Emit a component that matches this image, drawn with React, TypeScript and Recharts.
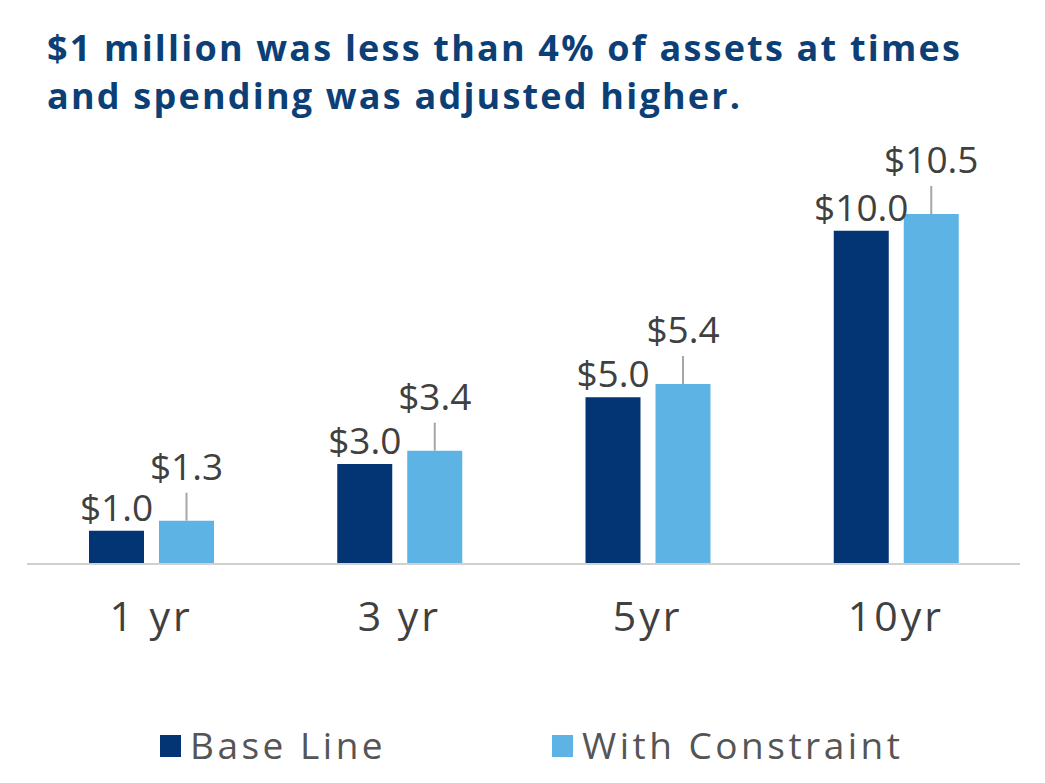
import { BarChart, Bar, XAxis, YAxis, LabelList } from "recharts";

const periods = ["1 yr", "3 yr", "5yr", "10yr"];
const baseLine = [1.0, 3.0, 5.0, 10.0];
const withConstraint = [1.3, 3.4, 5.4, 10.5];
const seriesNames = ["Base Line", "With Constraint"];
const titleLines = [
  "$1 million was less than 4% of assets at times",
  "and spending was adjusted higher.",
];

const DARK = "#033474";
const LIGHT = "#5db3e4";
const TEXT = "#404040";
const FONT = "'Open Sans', sans-serif";

const data = periods.map((p, i) => ({
  period: p,
  base: baseLine[i],
  constraint: withConstraint[i],
}));

const fmt = (v: number) => "$" + v.toFixed(1);

const BaseLabel = (props: any) => {
  const { x, y, width, value } = props;
  return (
    <text
      x={x + width / 2}
      y={y - 10}
      textAnchor="middle"
      fontSize={37}
      fontFamily={FONT}
      fill={TEXT}
    >
      {fmt(value)}
    </text>
  );
};

const ConstraintLabel = (props: any) => {
  const { x, y, width, value } = props;
  const cx = x + width / 2;
  return (
    <g>
      <line x1={cx} x2={cx} y1={y - 28} y2={y} stroke="#a6a6a6" strokeWidth={2} />
      <text
        x={cx}
        y={y - 41}
        textAnchor="middle"
        fontSize={37}
        fontFamily={FONT}
        fill={TEXT}
      >
        {fmt(value)}
      </text>
    </g>
  );
};

const legendItems = [
  { name: seriesNames[0], color: DARK, x: 160 },
  { name: seriesNames[1], color: LIGHT, x: 552 },
];

const App = () => {
  return (
    <div style={{ position: "absolute", left: 0, top: 0, width: 1045, height: 783, background: "#fff" }}>
      <BarChart
        width={1045}
        height={783}
        data={data}
        margin={{ top: 164, right: 25, left: 27, bottom: 159 }}
        barSize={55}
        barGap={15}
      >
        <XAxis
          dataKey="period"
          height={60}
          axisLine={{ stroke: "#d0d0d0", strokeWidth: 2 }}
          tickLine={false}
          tickSize={0}
          tickMargin={38}
          tick={{ fontSize: 41, fill: TEXT, fontFamily: FONT, letterSpacing: 3 }}
        />
        <YAxis hide domain={[0, 12]} />
        <Bar dataKey="base" name={seriesNames[0]} fill={DARK} isAnimationActive={false}>
          <LabelList dataKey="base" content={BaseLabel} />
        </Bar>
        <Bar dataKey="constraint" name={seriesNames[1]} fill={LIGHT} isAnimationActive={false}>
          <LabelList dataKey="constraint" content={ConstraintLabel} />
        </Bar>
      </BarChart>
      <svg
        width={1045}
        height={783}
        style={{ position: "absolute", left: 0, top: 0, pointerEvents: "none" }}
      >
        {titleLines.map((t, i) => (
          <text
            key={t}
            x={47}
            y={61 + i * 48}
            fontSize={36}
            fontWeight={700}
            fontFamily={FONT}
            letterSpacing={2.2}
            fill="#0d3f77"
          >
            {t}
          </text>
        ))}
        {legendItems.map((it) => (
          <g key={it.name}>
            <rect x={it.x} y={735} width={21} height={22} fill={it.color} />
            <text
              x={it.x + 30}
              y={759}
              fontSize={37}
              fontFamily={FONT}
              letterSpacing={3.5}
              fill="#555555"
            >
              {it.name}
            </text>
          </g>
        ))}
      </svg>
    </div>
  );
};

export default App;
